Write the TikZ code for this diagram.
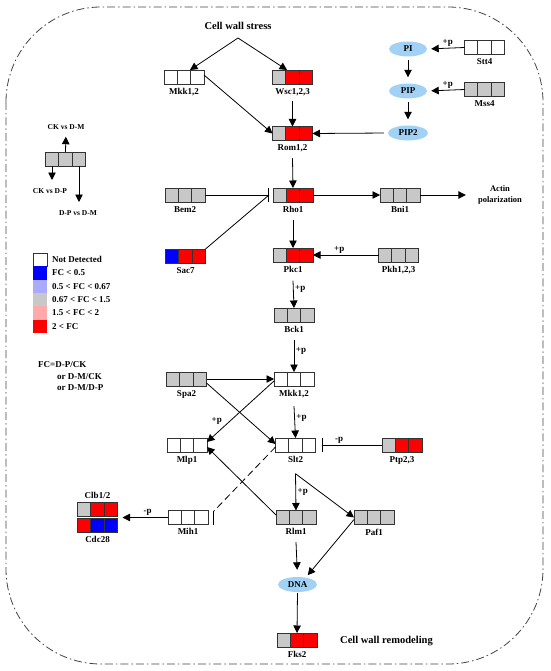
\documentclass[tikz,border=0pt]{standalone}
\usepackage{fontspec}
\setmainfont{Liberation Serif}
\usetikzlibrary{arrows.meta,calc,shapes.geometric}
\definecolor{cgray}{HTML}{C8C8C8}
\definecolor{cred}{HTML}{FF0000}
\definecolor{cblue}{HTML}{0000FF}
\definecolor{clblue}{HTML}{AAAAFF}
\definecolor{cpink}{HTML}{FFAAAA}
\definecolor{cwhite}{HTML}{FFFFFF}
\definecolor{ellblue}{HTML}{A2D1F6}
\definecolor{bline}{HTML}{333333}
\definecolor{border}{HTML}{444444}
\tikzset{
  gbox/.style={minimum width=40pt,minimum height=14pt,inner sep=0pt,outer sep=0pt},
  boxline/.style={draw=bline,line width=0.9pt},
  lbl/.style={font=\bfseries\fontsize{9}{10}\selectfont,inner sep=1pt},
  plab/.style={font=\bfseries\fontsize{9}{10}\selectfont,inner sep=1.5pt},
  smalltxt/.style={font=\bfseries\fontsize{7.5}{8.5}\selectfont,inner sep=1pt},
  legtxt/.style={font=\bfseries\fontsize{9}{10}\selectfont,inner sep=0pt,anchor=west},
  conn/.style={draw=black,line width=0.8pt},
  arr/.style={conn,-{Triangle[length=7.5pt,width=7.5pt]}},
  inh/.style={conn,-{Bar[width=14pt,line width=1pt]}},
  ell/.style={ellipse,fill=ellblue,minimum width=38pt,minimum height=15pt,inner sep=0pt,font=\bfseries\fontsize{9}{10}\selectfont},
  cellborder/.style={draw=border,line width=0.8pt,dash pattern=on 8pt off 3pt on 1.5pt off 3pt}
}
\newcommand\tricells[6]{%
  \node[gbox] (#1) at (#2,#3) {};
  \fill[#4] (#1.north west) rectangle ([xshift=13.333pt]#1.south west);
  \fill[#5] ([xshift=13.333pt]#1.north west) rectangle ([xshift=-13.333pt]#1.south east);
  \fill[#6] ([xshift=-13.333pt]#1.north east) rectangle (#1.south east);
  \draw[boxline] (#1.north west) rectangle (#1.south east)
    ([xshift=13.333pt]#1.north west) -- ([xshift=13.333pt]#1.south west)
    ([xshift=-13.333pt]#1.north east) -- ([xshift=-13.333pt]#1.south east);
}
\newcommand\tribox[7]{%
  \tricells{#1}{#2}{#3}{#4}{#5}{#6}%
  \node[lbl,anchor=north] (#1-l) at ([yshift=-3pt]#1.south) {#7};
}
\begin{document}
\begin{tikzpicture}[x=1pt,y=-1pt]
\useasboundingbox (0,0) rectangle (550,671);
\draw[cellborder,rounded corners=95pt] (6,7) rectangle (543,664);

% top
\node[font=\bfseries\fontsize{10.5}{12}\selectfont,inner sep=1pt] (cws) at (238,26) {Cell wall stress};
\coordinate (cwsf) at (238,38);
\tribox{mkkA}{184}{77}{cwhite}{cwhite}{cwhite}{Mkk1,2}
\tribox{wsc}{292.5}{77}{cgray}{cred}{cred}{Wsc1,2,3}
\tribox{rom}{292.5}{133.5}{cgray}{cred}{cred}{Rom1,2}
\node[ell] (pi) at (408,49) {PI};
\node[ell] (pip) at (408,91) {PIP};
\node[ell,minimum width=40pt] (pip2) at (408,133) {PIP2};
\tribox{stt4}{484.5}{47.5}{cwhite}{cwhite}{cwhite}{Stt4}
\tribox{mss4}{484.5}{89.5}{cgray}{cgray}{cgray}{Mss4}

\draw[arr] (cwsf) -- ([xshift=6pt]mkkA.north);
\draw[arr] (cwsf) -- ([xshift=-5.5pt]wsc.north);
\draw[arr] ([yshift=2pt]mkkA.east) -- (rom.west);
\draw[arr] ([yshift=-4pt]wsc-l.south) -- (rom.north);
\draw[arr,shorten <=4pt] (pip2.west) -- (rom.east);
\draw[arr,shorten <=3pt,shorten >=6pt] (pi) -- (pip);
\draw[arr,shorten <=3pt,shorten >=6pt] (pip) -- (pip2);
\draw[arr,shorten >=4pt] (stt4.west) -- node[plab,above,pos=0.45] {+p} (pi.east);
\draw[arr,shorten >=4pt] (mss4.west) -- node[plab,above,pos=0.45] {+p} (pip.east);

% legend icon
\tricells{leg}{65.5}{159}{cgray}{cgray}{cgray}
\node[smalltxt] (ck1) at (66,127) {CK vs D-M};
\node[smalltxt] (ck2) at (50,191) {CK vs D-P};
\node[smalltxt] (ck3) at (78,213) {D-P vs D-M};
\coordinate (e1) at (52,180);
\coordinate (e2) at (79,202);
\draw[arr,shorten >=6pt] (leg.north) -- (ck1.south);
\draw[arr] ([xshift=-13.5pt]leg.south) -- (e1);
\draw[arr] ([xshift=13.5pt]leg.south) -- (e2);

% colour legend
\node[minimum width=14pt,minimum height=13.3pt,inner sep=0pt,fill=cwhite,draw=bline,line width=0.9pt] (sw1) at (40,259.7) {};
\node[minimum width=14pt,minimum height=13.3pt,inner sep=0pt,fill=cblue] (sw2) at (40,273) {};
\node[minimum width=14pt,minimum height=13.3pt,inner sep=0pt,fill=clblue] (sw3) at (40,286.3) {};
\node[minimum width=14pt,minimum height=13.3pt,inner sep=0pt,fill=cgray] (sw4) at (40,299.6) {};
\node[minimum width=14pt,minimum height=13.3pt,inner sep=0pt,fill=cpink] (sw5) at (40,312.9) {};
\node[minimum width=14pt,minimum height=13.3pt,inner sep=0pt,fill=cred] (sw6) at (40,326.2) {};
\node[legtxt] (t1) at (52,259.7) {Not Detected};
\node[legtxt] (t2) at (52,273) {FC < 0.5};
\node[legtxt] (t3) at (52,286.3) {0.5 < FC < 0.67};
\node[legtxt] (t4) at (52,299.6) {0.67 < FC < 1.5};
\node[legtxt] (t5) at (52,312.9) {1.5 < FC < 2};
\node[legtxt] (t6) at (52,326.2) {2 < FC};
\node[legtxt] (f1) at (38,365) {FC=D-P/CK};
\node[legtxt] (f2) at (57,377) {or D-M/CK};
\node[legtxt] (f3) at (57,388) {or D-M/D-P};

% middle
\tribox{bem2}{185}{195}{cgray}{cgray}{cgray}{Bem2}
\tribox{rho}{293}{195}{cgray}{cred}{cred}{Rho1}
\tribox{bni}{400}{195}{cgray}{cgray}{cgray}{Bni1}
\node[font=\bfseries\fontsize{8.5}{11}\selectfont,align=center,inner sep=1pt] (actin) at (500,195) {Actin\\polarization};
\tribox{sac7}{185.5}{256}{cblue}{cred}{cred}{Sac7}
\tribox{pkc}{293}{255}{cgray}{cred}{cred}{Pkc1}
\tribox{pkh}{398.5}{255}{cgray}{cgray}{cgray}{Pkh1,2,3}
\tribox{bck}{294}{315}{cgray}{cgray}{cgray}{Bck1}

\draw[arr] ([yshift=-5pt]rom-l.south) -- (rho.north);
\draw[inh] (bem2.east) -- ([xshift=-4pt]rho.west);
\draw[conn] (sac7.north east) -- ([xshift=-4pt]rho.west);
\draw[arr] (rho.east) -- (bni.west);
\draw[arr,shorten >=11pt] (bni.east) -- (bni.east -| actin.west);
\draw[arr] ([yshift=-6pt]rho-l.south) -- (pkc.north);
\draw[arr] (pkh.west) -- node[plab,above,pos=0.6] {+p} (pkc.east);
\draw[arr] ([yshift=-7pt]pkc-l.south) -- node[plab,right,pos=0.3] {+p} (bck.north);

% lower
\tribox{mkkB}{294}{379}{cwhite}{cwhite}{cwhite}{Mkk1,2}
\tribox{spa2}{186.5}{379}{cgray}{cgray}{cgray}{Spa2}
\tribox{mlp1}{187}{445}{cwhite}{cwhite}{cwhite}{Mlp1}
\tribox{slt2}{295.5}{445}{cwhite}{cwhite}{cwhite}{Slt2}
\tribox{ptp}{402}{445}{cgray}{cred}{cred}{Ptp2,3}
\tribox{mih1}{188}{517.5}{cwhite}{cwhite}{cwhite}{Mih1}
\tricells{clb}{97.5}{509.5}{cgray}{cred}{cred}
\node[lbl,anchor=south] (clb-l) at ([yshift=3pt]clb.north) {Clb1/2};
\tribox{cdc}{97.5}{525.5}{cred}{cblue}{cblue}{Cdc28}
\tribox{rlm}{296}{517.5}{cgray}{cgray}{cgray}{Rlm1}
\tribox{paf}{374}{517.5}{cgray}{cgray}{cgray}{Paf1}
\node[ell,minimum width=39pt] (dna) at (297.5,584.5) {DNA};
\tribox{fks}{297}{640}{cgray}{cred}{cred}{Fks2}
\node[font=\bfseries\fontsize{10.5}{12}\selectfont,inner sep=0pt,anchor=west] (cwr) at (340,641) {Cell wall remodeling};

\draw[arr] ([yshift=-6pt]bck-l.south) -- node[plab,right,pos=0.35] {+p} (mkkB.north);
\draw[arr] (spa2.east) -- (mkkB.west);
\draw[arr] ([yshift=-4pt]spa2.east) -- ([yshift=1pt]slt2.west);
\draw[arr] ([yshift=-2pt]mkkB.west) -- node[plab,pos=0.75,above left] {+p} ([yshift=3pt]mlp1.east);
\draw[arr] ([yshift=-7pt]mkkB-l.south) -- node[plab,right,pos=0.37] {+p} (slt2.north);
\draw[inh] (ptp.west) -- node[plab,above,pos=0.71] {-p} ([xshift=6pt]slt2.east);
\coordinate (sfork) at ([yshift=-10pt]slt2-l.south);
\draw[arr] (sfork) -- node[plab,right,pos=0.5] {+p} (rlm.north);
\draw[arr] (sfork) -- (paf.west);
\draw[arr] ([yshift=2.5pt]rlm.west) -- ([yshift=-2pt]mlp1.east);
\draw[conn,dash pattern=on 7pt off 4pt] ([yshift=-2pt]slt2.west) -- ([xshift=6pt,yshift=6.5pt]mih1.east);
\draw[conn,line width=1pt] ([xshift=5pt]mih1.north east) -- ([xshift=5pt]mih1.south east);
\coordinate (cc) at ($(clb.south east)!0.5!(cdc.north east)$);
\draw[arr] (mih1.west) -- node[plab,above,pos=0.45] {-p} ([xshift=5pt]cc);
\draw[arr,shorten >=7pt] ([yshift=-6pt]rlm-l.south) -- (dna.north);
\draw[arr,shorten >=3pt] ([yshift=-2pt]paf.west) -- (dna.40);
\draw[arr,shorten <=1pt] (dna.south) -- (fks.north);
\end{tikzpicture}
\end{document}
